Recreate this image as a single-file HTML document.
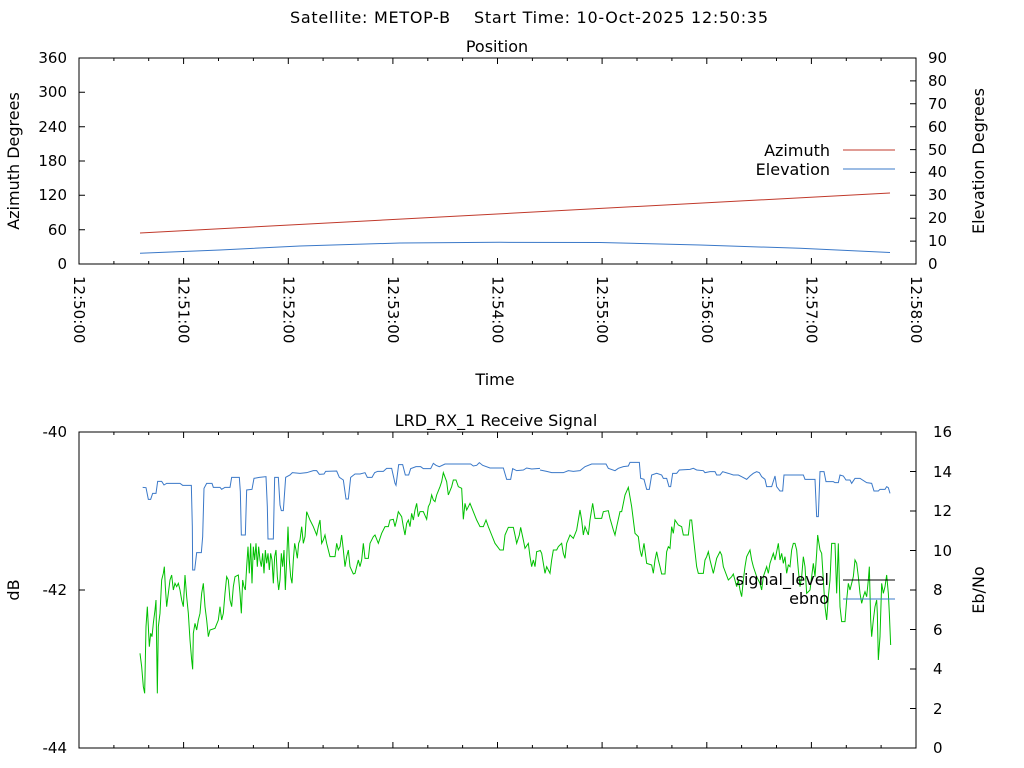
<!DOCTYPE html>
<html><head><meta charset="utf-8"><style>
html,body{margin:0;padding:0;background:#fff;}
svg{display:block;font-family:"DejaVu Sans","Liberation Sans",sans-serif;font-size:16px;fill:#000;}
</style></head><body>
<svg width="1024" height="768" viewBox="0 0 1024 768" xmlns="http://www.w3.org/2000/svg">
<rect width="1024" height="768" fill="#fff"/>
<text x="290" y="23" textLength="478" lengthAdjust="spacing" style="white-space:pre" xml:space="preserve">Satellite: METOP-B    Start Time: 10-Oct-2025 12:50:35</text>
<text x="497" y="52" text-anchor="middle">Position</text>
<text x="496" y="426" text-anchor="middle">LRD_RX_1 Receive Signal</text>

<!-- TOP PLOT -->
<rect x="79" y="58" width="837" height="206" fill="none" stroke="#000" stroke-width="1"/>
<g stroke="#000" stroke-width="1">
<path d="M79 264h6M79 229.7h6M79 195.3h6M79 161h6M79 126.7h6M79 92.3h6M79 58h6"/>
<path d="M916 264h-6M916 241.1h-6M916 218.2h-6M916 195.3h-6M916 172.4h-6M916 149.6h-6M916 126.7h-6M916 103.8h-6M916 80.9h-6M916 58h-6"/>
<path d="M79 264v-6M183.6 264v-6M288.3 264v-6M392.9 264v-6M497.5 264v-6M602.1 264v-6M706.8 264v-6M811.4 264v-6M79 58v6M183.6 58v6M288.3 58v6M392.9 58v6M497.5 58v6M602.1 58v6M706.8 58v6M811.4 58v6"/>
<path d="M113.9 264v-3M148.7 264v-3M218.5 264v-3M253.4 264v-3M323.1 264v-3M358 264v-3M427.8 264v-3M462.6 264v-3M532.4 264v-3M567.3 264v-3M637 264v-3M671.9 264v-3M741.6 264v-3M776.5 264v-3M846.3 264v-3M881.1 264v-3M113.9 58v3M148.7 58v3M218.5 58v3M253.4 58v3M323.1 58v3M358 58v3M427.8 58v3M462.6 58v3M532.4 58v3M567.3 58v3M637 58v3M671.9 58v3M741.6 58v3M776.5 58v3M846.3 58v3M881.1 58v3"/>
</g>
<g text-anchor="end" font-size="15">
<text x="67" y="269">0</text><text x="67" y="235">60</text><text x="67" y="200">120</text><text x="67" y="166">180</text><text x="67" y="132">240</text><text x="67" y="97">300</text><text x="67" y="63">360</text>
</g>
<g text-anchor="start" font-size="15">
<text x="928" y="269">0</text><text x="928" y="246">10</text><text x="928" y="223">20</text><text x="928" y="200">30</text><text x="928" y="177">40</text><text x="928" y="155">50</text><text x="928" y="132">60</text><text x="928" y="109">70</text><text x="928" y="86">80</text><text x="928" y="63">90</text>
</g>
<g font-size="15">
<text transform="translate(74,276) rotate(90)">12:50:00</text>
<text transform="translate(178.6,276) rotate(90)">12:51:00</text>
<text transform="translate(283.3,276) rotate(90)">12:52:00</text>
<text transform="translate(387.9,276) rotate(90)">12:53:00</text>
<text transform="translate(492.5,276) rotate(90)">12:54:00</text>
<text transform="translate(597.1,276) rotate(90)">12:55:00</text>
<text transform="translate(701.8,276) rotate(90)">12:56:00</text>
<text transform="translate(806.4,276) rotate(90)">12:57:00</text>
<text transform="translate(911,276) rotate(90)">12:58:00</text>
</g>
<text x="495" y="385" text-anchor="middle">Time</text>
<text transform="translate(19,161) rotate(-90)" text-anchor="middle">Azimuth Degrees</text>
<text transform="translate(984,161) rotate(-90)" text-anchor="middle">Elevation Degrees</text>
<polyline fill="none" stroke="#c0392b" stroke-width="1" points="140,233 890,193"/>
<polyline fill="none" stroke="#3a78c8" stroke-width="1" points="140,253.3 220,250 300,246 400,243 500,242.3 600,242.5 700,245 800,248.3 890,252.5"/>
<text x="830" y="156" text-anchor="end">Azimuth</text>
<line x1="843" y1="150" x2="895" y2="150" stroke="#c0392b"/>
<text x="830" y="175" text-anchor="end">Elevation</text>
<line x1="843" y1="169" x2="895" y2="169" stroke="#3a78c8"/>

<!-- BOTTOM PLOT -->
<rect x="79" y="432" width="837" height="316" fill="none" stroke="#000" stroke-width="1"/>
<g stroke="#000" stroke-width="1">
<path d="M79 590h6M916 748h-6M916 708.5h-6M916 669h-6M916 629.5h-6M916 590h-6M916 550.5h-6M916 511h-6M916 471.5h-6M916 432h-6"/>
<path d="M183.6 748v-6M288.3 748v-6M392.9 748v-6M497.5 748v-6M602.1 748v-6M706.8 748v-6M811.4 748v-6M183.6 432v6M288.3 432v6M392.9 432v6M497.5 432v6M602.1 432v6M706.8 432v6M811.4 432v6"/>
<path d="M113.9 748v-3M148.7 748v-3M218.5 748v-3M253.4 748v-3M323.1 748v-3M358 748v-3M427.8 748v-3M462.6 748v-3M532.4 748v-3M567.3 748v-3M637 748v-3M671.9 748v-3M741.6 748v-3M776.5 748v-3M846.3 748v-3M881.1 748v-3M113.9 432v3M148.7 432v3M218.5 432v3M253.4 432v3M323.1 432v3M358 432v3M427.8 432v3M462.6 432v3M532.4 432v3M567.3 432v3M637 432v3M671.9 432v3M741.6 432v3M776.5 432v3M846.3 432v3M881.1 432v3"/>
</g>
<g text-anchor="end" font-size="15">
<text x="67" y="437">-40</text><text x="67" y="595">-42</text><text x="67" y="753">-44</text>
</g>
<g text-anchor="start" font-size="15">
<text x="933" y="437">16</text><text x="933" y="477">14</text><text x="933" y="516">12</text><text x="933" y="556">10</text><text x="933" y="595">8</text><text x="933" y="635">6</text><text x="933" y="674">4</text><text x="933" y="714">2</text><text x="933" y="753">0</text>
</g>
<text transform="translate(19,590) rotate(-90)" text-anchor="middle">dB</text>
<text transform="translate(984,590) rotate(-90)" text-anchor="middle">Eb/No</text>

<g transform="translate(60,420) scale(0.333333)" fill="none" stroke-width="1">
<polyline vector-effect="non-scaling-stroke" stroke="#3a78c8" points="248,202 258,203 265,238 272,238 278,220 288,220 293,184 305,184 312,195 320,190 360,190 368,196 394,196 397,320 398,450 404,450 410,398 424,398 428,350 432,205 440,190 456,190 460,202 480,202 485,208 495,202 510,202 515,172 538,172 541,215 544,345 556,345 560,210 576,208 582,175 598,172 618,170 622,260 624,357 640,357 644,172 655,172 660,255 664,272 670,272 677,172 690,165 697,158 720,160 740,158 760,152 770,152 778,163 792,162 797,154 830,153 838,172 850,180 858,237 865,237 872,172 885,162 900,162 915,158 922,172 936,172 944,158 953,154 970,154 980,145 995,145 1005,190 1008,196 1016,134 1028,134 1036,165 1046,165 1052,146 1068,140 1082,140 1090,146 1112,146 1120,130 1128,136 1138,140 1155,132 1232,132 1240,138 1250,136 1258,128 1268,136 1290,144 1330,144 1340,178 1352,178 1358,146 1370,152 1390,150 1400,144 1415,147 1440,145"/>
<polyline vector-effect="non-scaling-stroke" stroke="#00c000" points="240,700 245,740 250,800 254,820 256,720 258,620 262,560 265,620 268,680 272,640 276,650 280,610 285,570 288,540 290,680 292,820 295,620 300,580 305,480 310,460 313,440 316,500 320,560 325,520 330,480 335,465 340,510 345,490 350,500 355,490 360,510 365,540 370,560 375,465 380,530 385,580 390,660 395,720 398,748 400,640 405,610 410,630 415,600 420,580 425,520 430,490 435,560 440,600 445,650 450,630 465,625 475,600 480,560 485,600 490,580 495,520 500,470 505,480 510,540 515,560 520,500 525,470 535,465 540,520 544,580 548,480 552,500 556,510 560,440 564,380 568,460 572,370 576,490 580,380 584,420 588,370 592,440 596,380 600,420 604,440 608,400 612,460 616,390 620,430 624,400 628,450 632,400 636,420 640,490 644,410 648,390 652,470 656,510 660,480 664,400 668,440 672,390 676,510 680,420 684,320 688,420 692,470 696,490 700,420 704,370 708,390 712,415 716,370 720,360 725,320 730,370 735,350 740,275 750,300 760,320 770,345 775,320 780,300 785,370 790,360 795,345 800,370 810,410 825,410 830,370 835,390 840,380 845,345 850,390 855,440 860,410 865,390 870,440 880,462 885,460 890,440 895,420 900,440 905,420 910,370 915,415 925,415 930,370 940,350 945,345 955,370 965,340 975,320 985,320 990,300 1000,298 1005,320 1010,300 1015,275 1025,290 1030,320 1035,345 1040,310 1045,300 1050,320 1055,280 1060,300 1065,270 1070,250 1075,290 1080,275 1090,275 1100,298 1105,260 1110,250 1115,225 1120,240 1125,245 1130,225 1140,200 1145,185 1150,158 1160,185 1165,225 1175,200 1180,180 1188,180 1195,200 1205,205 1210,298 1215,250 1220,270 1225,260 1230,250 1240,275 1250,300 1260,320 1270,320 1278,300 1285,320 1295,345 1305,370 1320,390 1330,390 1335,345 1345,322 1360,322 1365,345 1370,370 1378,345 1382,322 1390,360 1395,385 1405,370 1410,410 1415,440 1420,420 1425,440 1430,395 1440,392"/>
</g>
<g transform="translate(520,420) scale(0.333333)" fill="none" stroke-width="1">
<polyline vector-effect="non-scaling-stroke" stroke="#3a78c8" points="60,150 80,154 95,158 130,158 145,152 160,154 180,152 195,140 215,132 258,132 265,145 285,152 295,145 310,140 325,138 330,127 358,127 362,175 372,178 380,208 388,208 395,165 410,160 425,165 430,175 440,175 447,200 452,200 458,160 470,160 478,150 510,148 520,145 530,150 550,152 555,158 570,155 585,155 590,165 600,165 608,155 625,160 640,165 655,165 665,170 680,178 690,168 700,160 710,155 718,158 725,170 735,178 740,200 755,200 765,168 770,200 780,213 788,213 792,165 850,165 855,178 885,178 890,290 895,290 900,155 912,155 918,185 940,185 945,188 955,188 960,165 970,168 978,180 990,180 995,190 1005,175 1020,175 1040,188 1055,190 1062,213 1075,213 1080,208 1095,208 1100,200 1105,203 1110,220"/>
<polyline vector-effect="non-scaling-stroke" stroke="#00c000" points="60,390 65,400 70,430 75,460 80,440 85,450 90,460 95,420 100,390 110,390 115,380 125,370 130,400 135,415 140,370 150,345 160,355 170,330 175,300 180,270 185,300 190,345 195,320 205,345 210,300 218,250 225,295 245,295 250,275 265,272 270,295 280,330 285,345 290,320 300,275 305,275 315,225 325,202 335,260 345,340 355,350 360,390 365,410 372,370 380,430 395,435 400,460 405,420 410,395 415,420 420,440 425,462 435,462 440,395 445,380 450,385 455,320 460,340 465,300 475,315 485,320 490,345 505,345 510,300 515,300 520,350 530,440 535,460 550,460 555,420 560,410 565,395 570,420 580,460 590,415 600,395 605,405 610,440 625,480 635,470 640,462 650,500 655,480 660,510 665,530 670,480 675,440 680,410 690,390 695,420 700,440 710,470 715,480 720,490 725,510 730,470 740,440 745,460 750,430 760,400 765,420 775,370 780,420 785,400 790,430 795,410 800,460 805,435 810,440 815,390 820,370 825,370 830,390 835,450 840,500 845,470 850,410 855,440 860,520 870,510 875,470 880,430 885,470 890,400 893,345 900,390 905,400 910,480 915,560 920,600 925,530 930,480 935,370 945,370 950,520 955,370 960,560 965,605 975,605 980,540 985,490 990,510 995,490 1000,470 1005,420 1010,430 1015,470 1020,520 1025,550 1030,530 1035,515 1040,530 1045,480 1048,440 1052,600 1055,650 1060,600 1065,560 1070,540 1072,580 1075,720 1080,650 1085,490 1090,520 1095,500 1100,465 1105,520 1108,580 1112,675"/>
</g>
<text x="829" y="585" text-anchor="end">signal_level</text>
<line x1="843" y1="580" x2="895" y2="580" stroke="#000"/>
<text x="829" y="604" text-anchor="end">ebno</text>
<line x1="843" y1="599" x2="895" y2="599" stroke="#3a78c8"/>
</svg>
</body></html>
